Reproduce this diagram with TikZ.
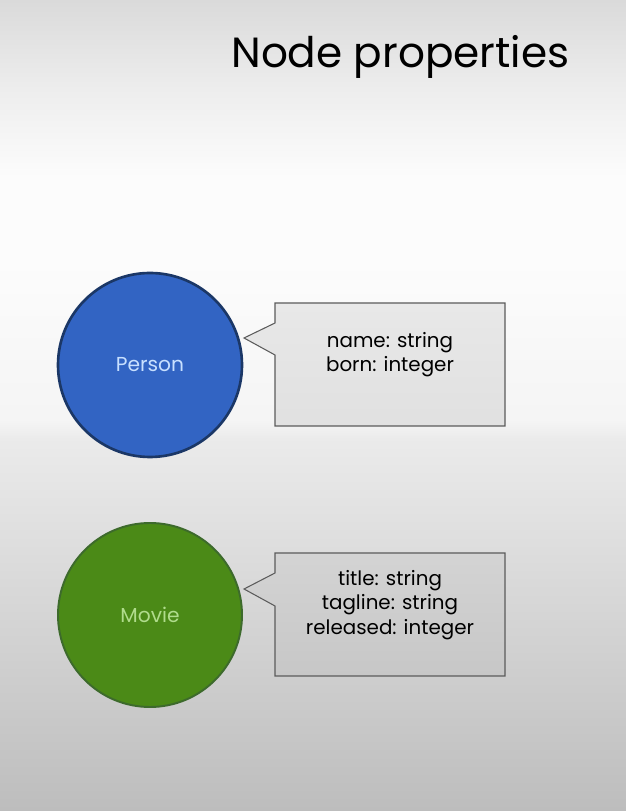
\documentclass[tikz,border=0pt]{standalone}
\usepackage{fontspec}
\setmainfont{Poppins}
\definecolor{bgtop}{HTML}{DADADA}
\definecolor{bgbot}{HTML}{BDBDBD}
\definecolor{personfill}{HTML}{3264C3}
\definecolor{personline}{HTML}{1B3766}
\definecolor{persontext}{HTML}{C8E0FF}
\definecolor{moviefill}{HTML}{4B8A17}
\definecolor{movieline}{HTML}{3D6A2C}
\definecolor{movietext}{HTML}{B0DC8C}
\definecolor{bubbleline}{HTML}{5B5B5B}
\pgfdeclareverticalshading{backdrop}{100bp}{%
  color(0bp)=(bgbot); color(25bp)=(bgbot);
  color(47.9bp)=(black!8); color(49.1bp)=(black!4);
  color(59.6bp)=(white!99!black); color(63.9bp)=(white!99!black);
  color(69.5bp)=(black!7); color(75bp)=(bgtop); color(100bp)=(bgtop)}
\tikzset{
  entity/.style={circle, minimum size=3.68cm, inner sep=0pt,
    font=\fontsize{11.5}{14}\selectfont},
  bubble/.style={draw=bubbleline, line width=0.6pt},
  props/.style={align=center, inner sep=0pt,
    font=\fontsize{11.3}{13.8}\selectfont}
}

\begin{document}
\begin{tikzpicture}[x=0.2mm,y=0.2mm]
    % Background
    \useasboundingbox (0,0) rectangle (626,811);
    \shade[shading=backdrop] (0,0) rectangle (626,811);
    % Title
    \node[anchor=base west, inner sep=0pt, font=\fontsize{24}{29}\selectfont]
      (title) at (231,743) {Node properties};
    % Circles
    \node[entity, fill=personfill, draw=personline, line width=1.5pt,
      text=persontext] (person) at (150,446) {Person};
    \node[entity, fill=moviefill, draw=movieline, line width=1.1pt,
      text=movietext] (movie) at (150,196) {Movie};
    % Bubbles
    \path[bubble, top color=black!9, bottom color=black!12]
      (275,508) -- (505,508) -- (505,385) -- (275,385)
      -- (275,456) -- (244,473) -- (275,488) -- cycle;
    \node[props] (personprops) at (390,456)
      {name: string\\born: integer};
    \path[bubble, top color=black!17, bottom color=black!22]
      (275,258) -- (505,258) -- (505,135) -- (275,135)
      -- (275,205) -- (244,222) -- (275,238) -- cycle;
    \node[props] (movieprops) at (390,206)
      {title: string\\tagline: string\\released: integer};
  \end{tikzpicture}
\end{document}
